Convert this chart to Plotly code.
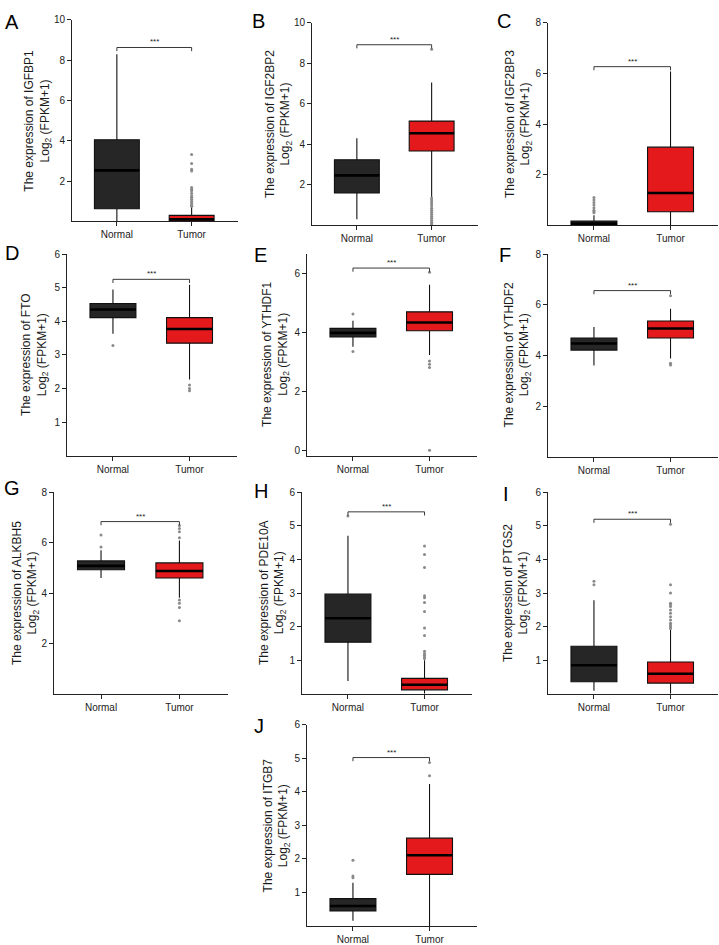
import plotly.graph_objects as go

# ---------------- data ----------------
panel_letters = ["A", "B", "C", "D", "E", "F", "G", "H", "I", "J"]
genes = ["IGFBP1", "IGF2BP2", "IGF2BP3", "FTO", "YTHDF1", "YTHDF2", "ALKBH5", "PDE10A", "PTGS2", "ITGB7"]
groups = ["Normal", "Tumor"]

normal_lo = [0.00, 0.30, 0.00, 3.63, 3.51, 3.60, 4.60, 0.38, 0.09, 0.16]
normal_q1 = [0.63, 1.60, 0.02, 4.11, 3.84, 4.21, 4.93, 1.54, 0.36, 0.45]
normal_med = [2.53, 2.47, 0.07, 4.35, 3.98, 4.47, 5.08, 2.25, 0.85, 0.60]
normal_q3 = [4.05, 3.24, 0.17, 4.53, 4.13, 4.69, 5.28, 2.97, 1.42, 0.82]
normal_hi = [8.30, 4.30, 0.40, 4.95, 4.39, 5.12, 5.70, 4.71, 2.79, 1.29]

tumor_lo = [0.00, 1.39, 0.00, 2.27, 3.23, 3.88, 3.82, 0.00, 0.00, 0.00]
tumor_q1 = [0.02, 3.67, 0.54, 3.35, 4.05, 4.69, 4.60, 0.12, 0.32, 1.54]
tumor_med = [0.10, 4.55, 1.28, 3.77, 4.33, 5.06, 4.88, 0.27, 0.60, 2.11]
tumor_q3 = [0.30, 5.15, 3.09, 4.11, 4.69, 5.36, 5.20, 0.46, 0.95, 2.62]
tumor_hi = [0.72, 7.05, 6.08, 5.09, 5.61, 5.84, 6.09, 1.00, 1.90, 4.23]

normal_outliers = [
    [],
    [],
    [0.50, 0.55, 0.60, 0.70, 0.80, 0.90, 1.00, 1.10],
    [3.28],
    [4.62, 3.35],
    [],
    [5.83, 6.31],
    [5.30],
    [3.25, 3.35],
    [1.44, 1.49, 1.96],
]
tumor_outliers = [
    [0.75, 0.80, 0.90, 1.00, 1.10, 1.20, 1.27, 1.40, 1.52, 1.60, 1.68, 2.50, 2.59, 2.87, 3.32],
    [8.70, 1.35, 1.25, 1.15, 1.05, 0.95, 0.85, 0.75, 0.65, 0.55, 0.45, 0.35, 0.25, 0.15, 0.08, 0.02],
    [],
    [2.10, 2.00, 1.93],
    [6.03, 3.03, 2.92, 2.81, 0.01],
    [6.36, 3.69, 3.62],
    [6.20, 6.44, 6.57, 6.68, 3.73, 3.60, 3.43, 2.90],
    [1.05, 1.10, 1.15, 1.20, 1.27, 1.74, 1.96, 2.45, 2.72, 2.86, 2.92, 3.76, 4.15, 4.40],
    [1.95, 2.00, 2.05, 2.10, 2.20, 2.30, 2.40, 2.50, 2.60, 2.65, 2.70, 3.00, 3.25, 5.05],
    [4.48, 4.87],
]
sig_y = [8.63, 8.92, 6.27, 5.25, 6.17, 6.56, 6.84, 5.42, 5.20, 5.02]
sig_label = ["***"] * 10

y_ranges = [[0, 10], [0, 10], [0, 8], [0, 6], [-0.17, 6.64], [0, 8], [0, 8], [0, 6], [0, 6], [0, 6]]
y_ticks = [[2, 4, 6, 8, 10], [2, 4, 6, 8, 10], [2, 4, 6, 8], [1, 2, 3, 4, 5, 6], [0, 2, 4, 6],
           [2, 4, 6, 8], [2, 4, 6, 8], [1, 2, 3, 4, 5, 6], [1, 2, 3, 4, 5, 6], [1, 2, 3, 4, 5, 6]]

# ---------------- layout geometry (pixels) ----------------
W, H = 719, 945
# left, right, top, bottom of each plot area
panel_px = [
    (72, 238, 14, 217),
    (312, 478, 17, 221),
    (548, 718, 17, 221),
    (67, 237, 250, 453),
    (307, 477, 250, 453),
    (548, 718, 250, 454),
    (54, 228, 490, 693),
    (302, 472, 490, 693),
    (548, 718, 490, 693),
    (307, 477, 724, 927),
]
title_cx = [38, 278, 518, 35, 276, 517, 25, 272, 516, 276]
letter_pos = [(3, 3), (250, 2), (495, 2), (3, 236), (252, 238), (497, 238),
              (2, 473), (252, 476), (501, 479), (252, 712)]

FONT = "Liberation Sans, Arial, sans-serif"
NORMAL_FILL = "#262626"
TUMOR_FILL = "#E3191B"
BOX_W = 0.6

fig = go.Figure()
annotations = []
layout_axes = {}

for i in range(10):
    n = i + 1
    xa = "x" if n == 1 else f"x{n}"
    ya = "y" if n == 1 else f"y{n}"
    L, R, T, B = panel_px[i]
    stats = [
        (0, normal_lo[i], normal_q1[i], normal_med[i], normal_q3[i], normal_hi[i], NORMAL_FILL, normal_outliers[i]),
        (1, tumor_lo[i], tumor_q1[i], tumor_med[i], tumor_q3[i], tumor_hi[i], TUMOR_FILL, tumor_outliers[i]),
    ]
    for (cx, lo, q1, med, q3, hi, fill, outs) in stats:
        fig.add_trace(go.Box(
            x=[cx], q1=[q1], median=[med], q3=[q3], lowerfence=[lo], upperfence=[hi],
            width=BOX_W, fillcolor=fill, line=dict(color="#111111", width=1.1),
            whiskerwidth=0, boxpoints=False, showlegend=False, hoverinfo="skip",
            xaxis=xa, yaxis=ya,
        ))
        fig.add_trace(go.Scatter(
            x=[cx - BOX_W / 2, cx + BOX_W / 2], y=[med, med], mode="lines",
            line=dict(color="#000000", width=2.6), showlegend=False, hoverinfo="skip",
            xaxis=xa, yaxis=ya,
        ))
        if outs:
            fig.add_trace(go.Scatter(
                x=[cx] * len(outs), y=outs, mode="markers",
                marker=dict(color="#8a8a8a", size=3), showlegend=False, hoverinfo="skip",
                xaxis=xa, yaxis=ya,
            ))
    # significance bracket
    span = y_ranges[i][1] - y_ranges[i][0]
    d = 0.018 * span
    s = sig_y[i]
    fig.add_trace(go.Scatter(
        x=[0, 0, 1, 1], y=[s - d, s, s, s - d], mode="lines",
        line=dict(color="#222222", width=0.9), showlegend=False, hoverinfo="skip",
        xaxis=xa, yaxis=ya,
    ))
    annotations.append(dict(
        x=0.5, y=s, xref=xa, yref=ya, text=sig_label[i], showarrow=False,
        yanchor="bottom", xanchor="center", yshift=-1,
        font=dict(family=FONT, size=8, color="#222222"),
    ))

    xdom = [L / W, R / W]
    ydom = [1 - B / H, 1 - T / H]
    key_x = "xaxis" if n == 1 else f"xaxis{n}"
    key_y = "yaxis" if n == 1 else f"yaxis{n}"
    layout_axes[key_x] = dict(
        domain=xdom, anchor=ya, range=[-0.6, 1.62], tickvals=[0, 1], ticktext=groups,
        showline=True, linecolor="#222222", linewidth=1, ticks="outside", ticklen=4,
        tickcolor="#222222", showgrid=False, zeroline=False,
        tickfont=dict(family=FONT, size=10, color="#222222"), fixedrange=True,
    )
    layout_axes[key_y] = dict(
        domain=ydom, anchor=xa, range=y_ranges[i], tickvals=y_ticks[i],
        showline=True, linecolor="#222222", linewidth=1, ticks="outside", ticklen=4,
        tickcolor="#222222", showgrid=False, zeroline=False,
        tickfont=dict(family=FONT, size=10, color="#222222"), fixedrange=True,
    )
    # y-axis title
    annotations.append(dict(
        x=title_cx[i] / W, y=(ydom[0] + ydom[1]) / 2, xref="paper", yref="paper",
        text=f"The expression of {genes[i]}<br>Log<sub>2</sub> (FPKM+1)",
        textangle=-90, showarrow=False, xanchor="center", yanchor="middle",
        font=dict(family=FONT, size=12, color="#1a1a1a"),
    ))
    # panel letter
    lx, ly = letter_pos[i]
    annotations.append(dict(
        x=lx / W, y=1 - ly / H, xref="paper", yref="paper", text=panel_letters[i],
        showarrow=False, xanchor="left", yanchor="top",
        font=dict(family=FONT, size=20, color="#000000"),
    ))

fig.update_layout(
    width=W, height=H, margin=dict(l=0, r=0, t=0, b=0),
    paper_bgcolor="white", plot_bgcolor="white",
    annotations=annotations, showlegend=False, **layout_axes,
)

fig.write_html(
    "out.html",
    config={"displayModeBar": False},
    post_script="document.body.style.margin='0';document.body.style.overflow='hidden';",
)
